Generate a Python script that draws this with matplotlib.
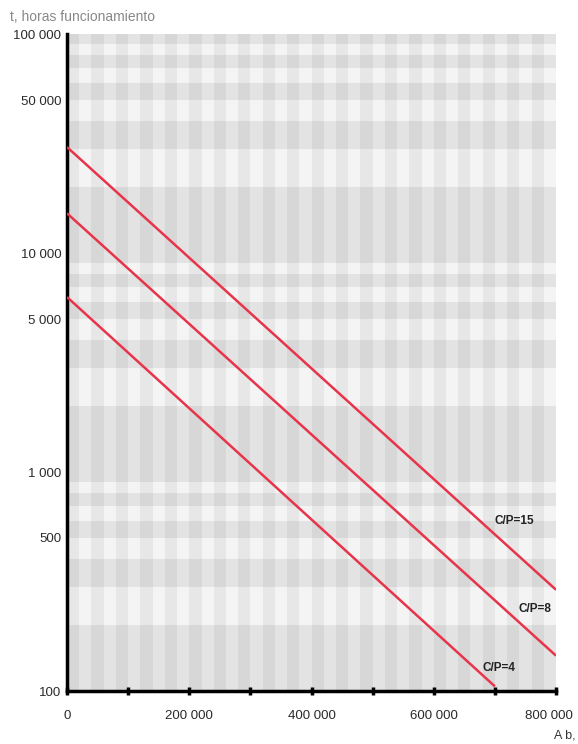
import numpy as np
import matplotlib.pyplot as plt
import matplotlib.transforms as mtrans

plt.rcParams['font.family'] = ['Liberation Sans', 'DejaVu Sans']

# line data: (revolutions, hours)
cp_labels = ["C/P=15", "C/P=8", "C/P=4"]
x_start = [0, 0, 0]
x_end = [800000, 800000, 700000]
h_start = [30500, 15200, 6300]
h_end = [290, 145, 105]
# label anchor (x, hours)
lab_x = [700000, 738000, 680000]
lab_h = [600, 237, 127]

y_ticks = [100, 500, 1000, 5000, 10000, 50000, 100000]
y_ticklabels = ["100", "500", "1 000", "5 000", "10 000", "50 000", "100 000"]
x_ticks = [0, 200000, 400000, 600000, 800000]
x_ticklabels = ["0", "200 000", "400 000", "600 000", "800 000"]

fig = plt.figure(figsize=(5.78, 7.44), dpi=100)
ax = fig.add_axes([0.116, 0.0712, 0.846, 0.8828])
ax.set_yscale("log")
ax.set_xlim(0, 800000)
ax.set_ylim(100, 100000)
ax.set_facecolor("#f4f4f4")

# checkered background: horizontal bands between log grid values
for dec in [100, 1000, 10000]:
    for k in range(1, 10, 2):
        ax.axhspan(k * dec, (k + 1) * dec, color="black", alpha=0.065, lw=0, zorder=0)
# vertical stripes
for xs in np.arange(0, 800000, 40000):
    ax.axvspan(xs, xs + 20000, color="black", alpha=0.05, lw=0, zorder=0)

for x0, x1, h0, h1 in zip(x_start, x_end, h_start, h_end):
    ax.plot([x0, x1], [h0, h1], color="#e8344a", lw=1.8, solid_capstyle="butt", zorder=3)

for lab, lx, lh in zip(cp_labels, lab_x, lab_h):
    ax.text(lx, lh, lab, fontsize=8.5, fontweight="bold", color="#222222",
            va="center", zorder=4)

for s in ["top", "right"]:
    ax.spines[s].set_visible(False)
ax.spines["left"].set_linewidth(2.5)
ax.spines["bottom"].set_linewidth(2.5)

ax.set_yticks(y_ticks)
ax.set_yticklabels(y_ticklabels)
ax.yaxis.set_minor_locator(plt.NullLocator())
ax.tick_params(axis="y", length=0, pad=4, labelsize=9.5, labelcolor="#2a2a2a")

ax.set_xticks(np.arange(0, 800001, 100000), minor=True)
ax.set_xticks(x_ticks)
ax.set_xticklabels(x_ticklabels)
ax.tick_params(axis="x", which="both", direction="inout", length=6, width=2.5,
               color="black", pad=11, labelsize=9.5, labelcolor="#2a2a2a")

# last label sits a bit to the left so it stays inside the figure
last = ax.get_xticklabels()[-1]
last.set_transform(last.get_transform() + mtrans.ScaledTranslation(-7 / 100, 0, fig.dpi_scale_trans))

fig.text(0.017, 0.972, "t, horas funcionamiento", fontsize=10, color="#888888")
fig.text(0.995, 0.008, "A b,", fontsize=9, color="#333333", ha="right")

fig.savefig("out.png", dpi=100)
